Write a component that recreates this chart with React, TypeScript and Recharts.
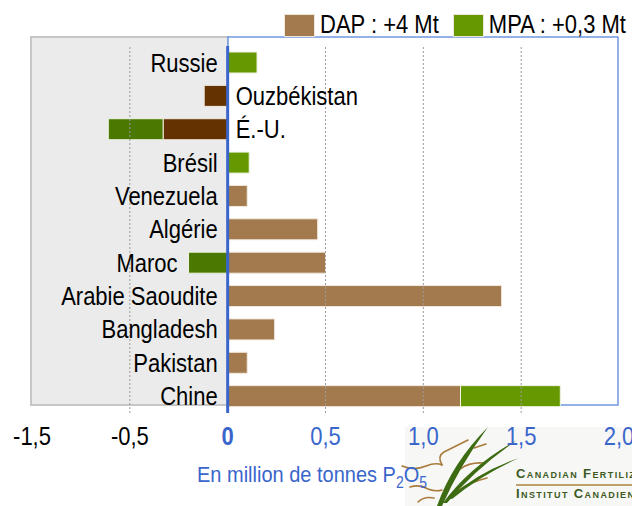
import React from "react";
import {
  BarChart,
  Bar,
  XAxis,
  YAxis,
  Cell,
  LabelList,
  Legend,
  ReferenceLine,
  Label,
} from "recharts";

// rows, top to bottom
const countries = [
  "Russie",
  "Ouzbékistan",
  "É.-U.",
  "Brésil",
  "Venezuela",
  "Algérie",
  "Maroc",
  "Arabie Saoudite",
  "Bangladesh",
  "Pakistan",
  "Chine",
];
// million t P2O5
const dapValues = [0, -0.12, -0.33, 0, 0.1, 0.46, 0.5, 1.4, 0.24, 0.1, 1.19];
const mpaValues = [0.15, 0, -0.28, 0.11, 0, 0, -0.2, 0, 0, 0, 0.51];

const xTicks = [-1, -0.5, 0, 0.5, 1, 1.5, 2];
const xTickLabels = ["-1,5", "-0,5", "0", "0,5", "1,0", "1,5", "2,0"];
const gridValues = [-0.5, 0.5, 1, 1.5];

const DAP_NAME = "DAP : +4 Mt";
const MPA_NAME = "MPA : +0,3 Mt";

const FONT = '"Liberation Sans", Arial, sans-serif';
const DAP_COLOR = "#a37a4e";
const DAP_NEG = "#643200";
const MPA_COLOR = "#669900";
const MPA_NEG = "#4b7800";
const BLUE = "#3a66cc";
const STRETCH = 1.13; // the source type is drawn a bit tall

const rows = countries.map((name, i) => ({
  name,
  dap: dapValues[i],
  mpa: mpaValues[i],
}));

const rowInfo = (name: string) => {
  const r = rows[countries.indexOf(name)];
  const hasPos = r.dap > 0 || r.mpa > 0;
  const hasNeg = r.dap < 0 || r.mpa < 0;
  return { r, hasPos, mixed: hasPos && hasNeg };
};

const TallText = ({ x, y, children, ...rest }: any) => (
  <text x={0} y={0} transform={`translate(${x} ${y}) scale(1 ${STRETCH})`} {...rest}>
    {children}
  </text>
);

const nameText = (x: number, y: number, anchor: "start" | "end", text: string) => (
  <TallText x={x} y={y} textAnchor={anchor} fontSize={22} fill="#000">
    {text}
  </TallText>
);

const boxOf = (props: any) => {
  const vb = props.viewBox || props;
  return { x: Number(vb.x), y: Number(vb.y), w: Number(vb.width), h: Number(vb.height) };
};

// place the country name from the bar segment that touches zero
// (or from the outer negative segment when a row has both signs)
const placeName = (props: any, zeroSide: number, outerNeg: boolean) => {
  const { r, hasPos } = rowInfo(String(props.value));
  const { x, y, w, h } = boxOf(props);
  const cy = y + h / 2 + 9;
  if (outerNeg) return nameText(Math.min(x, x + w) - 11, cy, "end", r.name);
  const zero = zeroSide < 0 ? Math.max(x, x + w) : Math.min(x, x + w);
  if (hasPos) return nameText(zero - 10, cy, "end", r.name);
  return nameText(zero + 8, cy, "start", r.name);
};

const DapName = (props: any) => {
  const { r, mixed } = rowInfo(String(props.value));
  if (r.dap === 0) return null;
  if (mixed && r.mpa < 0) return null;
  return placeName(props, r.dap, mixed);
};

const MpaName = (props: any) => {
  const { r, mixed } = rowInfo(String(props.value));
  if (mixed && r.mpa < 0) return placeName(props, r.mpa, true);
  if (r.dap !== 0 || r.mpa === 0) return null;
  return placeName(props, r.mpa, false);
};

const AxisTick = ({ x, y, payload }: any) => {
  const v = payload.value;
  const idx = xTicks.indexOf(v);
  return (
    <TallText
      x={x}
      y={y + 32}
      textAnchor="middle"
      fontSize={22}
      fontWeight={v === 0 ? "bold" : "normal"}
      fill={v < 0 ? "#000" : BLUE}
    >
      {xTickLabels[idx]}
    </TallText>
  );
};

const AxisTitle = ({ viewBox }: any) => (
  <TallText x={viewBox.x + 165} y={viewBox.y + 69} fontSize={20} fill={BLUE}>
    <tspan>En million de tonnes P</tspan>
    <tspan fontSize={14} dy={5}>2</tspan>
    <tspan dy={-5}>O</tspan>
    <tspan fontSize={14} dy={5}>5</tspan>
  </TallText>
);

const LegendContent = ({ payload }: any) => (
  <div style={{ display: "flex", alignItems: "flex-end", fontSize: 22, fontFamily: FONT }}>
    {(payload || []).map((entry: any, i: number) => (
      <div
        key={entry.value}
        style={{ display: "flex", alignItems: "flex-end", marginLeft: i ? 14 : 0 }}
      >
        <span
          style={{
            display: "inline-block",
            width: 31,
            height: 23,
            background: entry.color,
            border: "1px solid #efe6da",
            boxSizing: "border-box",
            marginRight: 5,
          }}
        />
        <span
          style={{
            display: "inline-block",
            lineHeight: "23px",
            color: "#000",
            whiteSpace: "nowrap",
            transform: `scaleY(${STRETCH})`,
            transformOrigin: "50% 80%",
          }}
        >
          {entry.value}
        </span>
      </div>
    ))}
  </div>
);

const Backdrop = () => (
  <svg width={632} height={506} style={{ position: "absolute", left: 0, top: 0 }}>
    <rect x={31} y={37} width={197} height={368} fill="#ebebeb" stroke="#c6c6c6" strokeWidth={2} />
    <rect x={228} y={37} width={390} height={368} fill="#fff" stroke="#7096e0" strokeWidth={1.5} />
    {/* logo */}
    <rect x={405} y={427} width={227} height={79} fill="#f7f7f5" />
    <g fill="none" stroke="#a97b3c" strokeWidth={1.6} strokeLinecap="round">
      <path d="M402,466 Q414,471 426,466 Q436,462 442,465" />
      <path d="M442,465 Q437,456 444,452 Q456,446 468,440" />
      <path d="M410,487 Q420,484 428,489 Q436,492 442,490" />
      <path d="M418,502 Q424,496 434,498" />
      <path d="M460,469 Q470,462 483,463" />
      <path d="M456,492 Q470,482 487,478" />
      <path d="M474,448 Q480,446 486,444" />
    </g>
    <g fill="#3d6b12">
      <path d="M437,506 Q452,463 488,427 Q459,467 442,506 Z" />
      <path d="M443,503 Q470,466 517,440 Q475,469 447,503 Z" />
      <path d="M449,498 Q478,472 519,458 Q481,475 452,499 Z" />
    </g>
    <g
      fill="#3d5a1f"
      fontFamily={FONT}
      fontWeight="bold"
      fontSize={13}
      letterSpacing={1.4}
      style={{ fontVariant: "small-caps" }}
    >
      <text x={516} y={478}>Canadian Fertilizer Institute</text>
      <text x={516} y={498}>Institut Canadien des Engrais</text>
    </g>
    <line x1={516} y1={485} x2={632} y2={485} stroke="#a8843f" strokeWidth={1.5} />
  </svg>
);

export default function App() {
  return (
    <div
      style={{
        position: "absolute",
        left: 0,
        top: 0,
        width: 632,
        height: 506,
        fontFamily: FONT,
        overflow: "hidden",
      }}
    >
      <Backdrop />
      <div style={{ position: "absolute", left: 0, top: 0 }}>
        <BarChart
          width={632}
          height={506}
          data={rows}
          layout="vertical"
          stackOffset="sign"
          barSize={21}
          margin={{ top: 46, right: 13, left: 32, bottom: 63 }}
        >
          <XAxis
            type="number"
            domain={[-1, 2]}
            ticks={xTicks}
            allowDataOverflow
            axisLine={false}
            tickLine={false}
            tickSize={0}
            tickMargin={0}
            height={30}
            tick={AxisTick}
            interval={0}
          >
            <Label content={AxisTitle} />
          </XAxis>
          <YAxis type="category" dataKey="name" hide />
          <Legend
            layout="horizontal"
            verticalAlign="middle"
            align="center"
            wrapperStyle={{ top: 14, left: 284, width: 360, height: 23 }}
            content={LegendContent}
          />
          <Bar
            dataKey="dap"
            name={DAP_NAME}
            stackId="a"
            fill={DAP_COLOR}
            stroke="#f1e9de"
            strokeWidth={1}
            isAnimationActive={false}
          >
            {rows.map((r) => (
              <Cell key={r.name} fill={r.dap < 0 ? DAP_NEG : DAP_COLOR} />
            ))}
            <LabelList dataKey="name" content={DapName} />
          </Bar>
          <Bar
            dataKey="mpa"
            name={MPA_NAME}
            stackId="a"
            fill={MPA_COLOR}
            stroke="#eef3e2"
            strokeWidth={1}
            isAnimationActive={false}
          >
            {rows.map((r) => (
              <Cell key={r.name} fill={r.mpa < 0 ? MPA_NEG : MPA_COLOR} />
            ))}
            <LabelList dataKey="name" content={MpaName} />
          </Bar>
          {gridValues.map((v) => (
            <ReferenceLine
              key={v}
              x={v}
              stroke="#9a9a9a"
              strokeDasharray="2 2"
              strokeWidth={1}
            />
          ))}
          <ReferenceLine x={0} stroke={BLUE} strokeWidth={3} />
        </BarChart>
      </div>
    </div>
  );
}
